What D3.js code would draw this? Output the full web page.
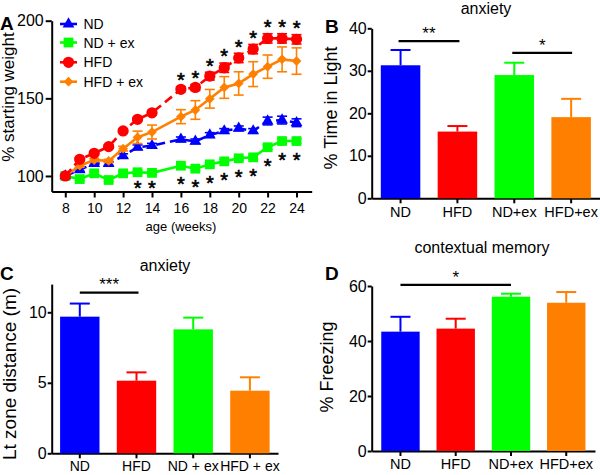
<!DOCTYPE html>
<html><head><meta charset="utf-8">
<script src="https://cdn.jsdelivr.net/npm/d3@7"></script>
<style>
html,body{margin:0;padding:0;background:#fff;}
svg{display:block;font-family:"Liberation Sans",Arial,Helvetica,sans-serif;}
</style></head>
<body><svg id="c" width="600" height="475"></svg>
<script>
// ---------- Panel A data ----------
const weeks = [8,9,10,11,12,13,14,16,17,18,19,20,21,22,23,24];
const ndMean    = [100,104,108,108,113,118.5,119.5,123.6,122.3,126.4,129,130.7,129,135.4,136,134.3];
const ndErr     = [0,1,1.2,1.2,1.3,1.5,1.5,1.5,1.5,1.5,1.5,1.5,1.5,2.5,2.5,2.5];
const ndexMean  = [100,98,101.7,97.4,101.7,102.4,102,106.6,104.7,107.5,109.4,111.4,112,118.5,122.5,122.5];
const ndexErr   = [0,1,1,1,1,1,1,1.2,1.2,1.2,1.2,1.2,1.2,1.5,1.5,1.5];
const hfdMean   = [100,110.7,114.6,118.9,129,136.5,140.7,155.8,157,164.3,169.7,176,181.7,188.6,188.6,188];
const hfdErr    = [0,1,1,1,1,1,1,1.5,2,2.5,3,3,3,3,3,3];
const hfdexMean = [100,106.6,110.3,109.7,117.6,124.9,128.3,138.2,142.5,149.7,157,159.6,165.6,170.4,175.1,174];
const hfdexErr  = [0,1,1,1,1.5,4,4.5,4.5,6,6,7,7.5,8,7.5,8,8.5];
const seriesNames = ["ND","ND + ex","HFD","HFD + ex"];
const upperStarWeeks = [16,17,18,19,20,21,22,23,24];
const lowerStarWeeks = [13,14,16,17,18,19,20,21,22,23,24];
const weightTicks = [100,150,200];
const weekTicks = [8,10,12,14,16,18,20,22,24];

// ---------- Bar panels data ----------
const groupsBD = ["ND","HFD","ND+ex","HFD+ex"];
const groupsC  = ["ND","HFD","ND + ex","HFD + ex"];
const lightMean  = [31.3,15.7,29.0,19.1];
const lightErr   = [3.6,1.3,2.9,4.3];
const distMean   = [9.69,5.15,8.79,4.44];
const distErr    = [0.93,0.59,0.83,0.95];
const freezeMean = [43.4,44.5,56.1,53.9];
const freezeErr  = [5.4,3.6,1.1,3.9];
const barColors = ["#0000ff","#ff0000","#00ff00","#ff8000"];

const svg = d3.select("#c");
const FONT = '"Liberation Sans",Arial,Helvetica,sans-serif';

function styleAxis(g, fs){
  g.select(".domain").attr("stroke","#000").attr("stroke-width",2);
  g.selectAll(".tick line").attr("stroke","#000").attr("stroke-width",2);
  g.selectAll(".tick text").attr("font-size",fs).attr("font-family",FONT).attr("fill","#000");
}
function star(g, x, yc, txt, fs, thick){
  g.append("text").attr("x",x).attr("y",yc + 0.57*fs).attr("text-anchor","middle")
   .attr("font-size",fs).attr("font-family",FONT)
   .attr("stroke",thick?"#000":null).attr("stroke-width",thick?0.6:null).text(txt);
}

// ================= Panel A =================
const xA = d3.scaleLinear().domain([7.06,25.05]).range([51.7,311.7]);
const yA = d3.scaleLinear().domain([90,200]).range([191.5,20.7]);
const gA = svg.append("g");
const axA_y = gA.append("g").attr("transform",`translate(${xA.range()[0]},0)`)
  .call(d3.axisLeft(yA).tickValues(weightTicks).tickSize(6).tickSizeOuter(0).tickPadding(2));
styleAxis(axA_y,16);
const axA_x = gA.append("g").attr("transform",`translate(0,${yA.range()[0]})`)
  .call(d3.axisBottom(xA).tickValues(weekTicks).tickSize(6).tickSizeOuter(0).tickPadding(6));
styleAxis(axA_x,14);

const series = [
  {name:seriesNames[0], mean:ndMean,   err:ndErr,   color:"#0000ff", dash:"9,5", sym:d3.symbolTriangle, size:60, rot:0},
  {name:seriesNames[1], mean:ndexMean, err:ndexErr, color:"#00ff00", dash:null,  sym:d3.symbolSquare,   size:95, rot:0},
  {name:seriesNames[2], mean:hfdMean,  err:hfdErr,  color:"#ff0000", dash:"9,5", sym:d3.symbolCircle,   size:100, rot:0},
  {name:seriesNames[3], mean:hfdexMean,err:hfdexErr,color:"#ff8000", dash:null,  sym:d3.symbolSquare,   size:48, rot:45}
];
const line = d3.line().x(d=>xA(d.w)).y(d=>yA(d.v));
// draw in order: green, blue, orange, red
[1,0,3,2].forEach(i=>{
  const s = series[i];
  const pts = weeks.map((w,j)=>({w, v:s.mean[j], e:s.err[j]}));
  const g = gA.append("g");
  pts.filter(p=>p.e>0).forEach(p=>{
    const x = xA(p.w), y1 = yA(p.v+p.e), y2 = yA(p.v-p.e);
    g.append("line").attr("x1",x).attr("x2",x).attr("y1",y1).attr("y2",y2).attr("stroke",s.color).attr("stroke-width",1.6);
    [y1,y2].forEach(yy=>g.append("line").attr("x1",x-5).attr("x2",x+5).attr("y1",yy).attr("y2",yy).attr("stroke",s.color).attr("stroke-width",1.6));
  });
  g.append("path").attr("d",line(pts)).attr("fill","none").attr("stroke",s.color)
   .attr("stroke-width",2.6).attr("stroke-dasharray",s.dash);
  g.selectAll("path.m").data(pts).join("path").attr("class","m")
   .attr("d",d3.symbol().type(s.sym).size(s.size))
   .attr("transform",d=>`translate(${xA(d.w)},${yA(d.v)}) rotate(${s.rot})`)
   .attr("fill",s.color);
});
// stars
upperStarWeeks.forEach(w=>{
  const j = weeks.indexOf(w);
  star(gA, xA(w), yA(hfdMean[j]+hfdErr[j]) - 11, "*", 20, true);
});
lowerStarWeeks.forEach(w=>{
  const j = weeks.indexOf(w);
  star(gA, xA(w), Math.min(yA(ndexMean[j]-ndexErr[j]) + 12, 184), "*", 20, true);
});
// legend
series.forEach((s,i)=>{
  const ly = [24,42.5,62.3,81.7][i];
  gA.append("line").attr("x1",60).attr("x2",77).attr("y1",ly).attr("y2",ly).attr("stroke",s.color).attr("stroke-width",2.6);
  gA.append("path").attr("d",d3.symbol().type(s.sym).size(s.size)).attr("transform",`translate(68.5,${ly}) rotate(${s.rot})`).attr("fill",s.color);
  gA.append("text").attr("x",83.5).attr("y",ly+5).attr("font-size",14).attr("font-family",FONT).text(s.name);
});
gA.append("text").attr("x",0).attr("y",30).attr("font-size",19).attr("font-weight","bold").attr("font-family",FONT).text("A");
gA.append("text").attr("transform","translate(14,97) rotate(-90)").attr("text-anchor","middle")
  .attr("font-size",17).attr("font-family",FONT).text("% starting weight");
gA.append("text").attr("x",181).attr("y",231).attr("text-anchor","middle").attr("font-size",13)
  .attr("font-family",FONT).text("age (weeks)");

// ================= Bar panel helper =================
function barPanel(opt){
  const g = svg.append("g");
  const x = d3.scaleBand().domain(opt.cats).range(opt.xr).paddingInner(0.305).paddingOuter(opt.po);
  const y = d3.scaleLinear().domain(opt.yd).range(opt.yr);
  const ay = g.append("g").attr("transform",`translate(${opt.xr[0]},0)`)
    .call(d3.axisLeft(y).tickValues(opt.yticks).tickSize(4).tickSizeOuter(0).tickPadding(1));
  styleAxis(ay,16);
  const ax = g.append("g").attr("transform",`translate(0,${opt.yr[0]})`)
    .call(d3.axisBottom(x).tickSize(5).tickSizeOuter(0).tickPadding(3));
  styleAxis(ax,14.5);
  ax.selectAll(".tick text").attr("font-size",opt.xfs||14.5);
  opt.cats.forEach((c,i)=>{
    const cx = x(c)+x.bandwidth()/2;
    const top = y(opt.mean[i]), et = y(opt.mean[i]+opt.err[i]);
    g.append("line").attr("x1",cx).attr("x2",cx).attr("y1",top).attr("y2",et).attr("stroke",barColors[i]).attr("stroke-width",2);
    g.append("line").attr("x1",cx-10).attr("x2",cx+10).attr("y1",et).attr("y2",et).attr("stroke",barColors[i]).attr("stroke-width",2);
    g.append("rect").attr("x",x(c)).attr("width",x.bandwidth()).attr("y",top).attr("height",y(opt.yd[0])-top).attr("fill",barColors[i]);
  });
  opt.sig.forEach(s=>{
    const x1 = x(opt.cats[s.a])+x.bandwidth()/2, x2 = x(opt.cats[s.b])+x.bandwidth()/2;
    const ly = y(s.level);
    g.append("line").attr("x1",x1+s.dx1).attr("x2",x2+s.dx2).attr("y1",ly).attr("y2",ly).attr("stroke","#000").attr("stroke-width",2.2);
    star(g,(x1+s.dx1+x2+s.dx2)/2, ly-12, s.txt, 17, false);
  });
  g.append("text").attr("x",opt.letter[0]).attr("y",opt.letter[1]).attr("font-size",19).attr("font-weight","bold").attr("font-family",FONT).text(opt.letter[2]);
  g.append("text").attr("x",opt.title[0]).attr("y",opt.title[1]).attr("text-anchor","middle").attr("font-size",16).attr("font-family",FONT).text(opt.title[2]);
  g.append("text").attr("transform",`translate(${opt.ylab[0]},${opt.ylab[1]}) rotate(-90)`).attr("text-anchor","middle")
    .attr("font-size",opt.ylab[3]).attr("font-family",FONT).text(opt.ylab[2]);
}

// Panel B
barPanel({cats:groupsBD, xr:[371.7,600], po:0.16, yd:[0,40], yr:[198.3,28.3], yticks:[0,10,20,30,40],
  mean:lightMean, err:lightErr,
  sig:[{a:0,b:1,level:37,txt:"**",dx1:-2,dx2:2},{a:2,b:3,level:34.2,txt:"*",dx1:-2,dx2:1}],
  letter:[325,33,"B"], title:[486,14,"anxiety"], ylab:[337,108,"% Time in Light",18]});
// Panel C
barPanel({cats:groupsC, xr:[51.7,278], po:0.148, yd:[0,12], yr:[453.3,284.1], yticks:[0,5,10],
  mean:distMean, err:distErr,
  sig:[{a:0,b:1,level:11.4,txt:"***",dx1:0,dx2:2}],
  letter:[0,280,"C"], title:[165,271,"anxiety"], ylab:[16,374,"Lt zone distance (m)",19], xfs:14});
// Panel D
barPanel({cats:groupsBD, xr:[371.7,595], po:0.173, yd:[0,60], yr:[451,286], yticks:[0,20,40,60],
  mean:freezeMean, err:freezeErr,
  sig:[{a:0,b:2,level:60.4,txt:"*",dx1:0,dx2:0}],
  letter:[325,280,"D"], title:[482,253,"contextual memory"], ylab:[333,367,"% Freezing",18]});
</script></body></html>
